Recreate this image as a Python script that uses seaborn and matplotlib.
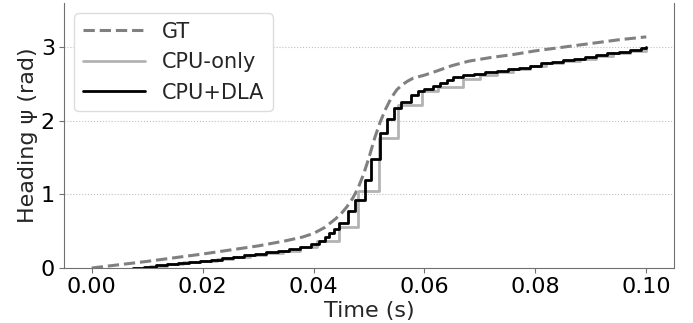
import matplotlib
matplotlib.use('Agg')
import matplotlib.pyplot as plt
import seaborn as sns

# Datos (tiempo en s, rumbo en rad)
gt_t = [0.000, 0.010, 0.020, 0.030, 0.035, 0.038, 0.040, 0.042, 0.044, 0.045,
        0.046, 0.047, 0.048, 0.049, 0.050, 0.051, 0.052, 0.053, 0.054, 0.055,
        0.056, 0.057, 0.058, 0.060, 0.062, 0.065, 0.068, 0.072, 0.076, 0.080,
        0.085, 0.090, 0.095, 0.100]
gt_v = [0.00, 0.09, 0.19, 0.30, 0.37, 0.42, 0.47, 0.55, 0.67, 0.74,
        0.83, 0.94, 1.08, 1.27, 1.50, 1.76, 1.98, 2.16, 2.31, 2.42,
        2.49, 2.54, 2.58, 2.62, 2.67, 2.75, 2.81, 2.86, 2.90, 2.95,
        3.00, 3.05, 3.10, 3.14]

cpu_t = [0.0075, 0.0105, 0.0135, 0.0165, 0.0195, 0.0225, 0.0255, 0.0285,
         0.0315, 0.0345, 0.0375, 0.0406, 0.0445, 0.0480, 0.0518, 0.0553,
         0.0595, 0.0625, 0.0669, 0.0700, 0.0730, 0.0760, 0.0790, 0.0820,
         0.0850, 0.0880, 0.0910, 0.0940, 0.0970, 0.1000]
cpu_v = [0.00, 0.03, 0.05, 0.075, 0.095, 0.12, 0.145, 0.17,
         0.20, 0.23, 0.28, 0.37, 0.56, 1.04, 1.77, 2.22,
         2.40, 2.46, 2.57, 2.62, 2.66, 2.70, 2.74, 2.78,
         2.81, 2.84, 2.88, 2.92, 2.95, 2.99]

dla_t = [0.0075, 0.0095, 0.0115, 0.0135, 0.0155, 0.0175, 0.0195, 0.0215,
         0.0235, 0.0255, 0.0275, 0.0295, 0.0315, 0.0335, 0.0355, 0.0375,
         0.0395, 0.0410, 0.0420, 0.0428, 0.0436, 0.0445, 0.0462, 0.0475,
         0.0492, 0.0503, 0.0519, 0.0533, 0.0545, 0.0558, 0.0576, 0.0588,
         0.0600, 0.0615, 0.0628, 0.0640, 0.0652, 0.0670, 0.0690, 0.0710,
         0.0730, 0.0750, 0.0770, 0.0790, 0.0810, 0.0830, 0.0850, 0.0870,
         0.0890, 0.0910, 0.0930, 0.0950, 0.0970, 0.0990, 0.1000]
dla_v = [0.00, 0.02, 0.04, 0.055, 0.07, 0.085, 0.10, 0.115,
         0.135, 0.155, 0.175, 0.195, 0.215, 0.235, 0.26, 0.29,
         0.33, 0.37, 0.42, 0.47, 0.53, 0.61, 0.77, 0.92,
         1.20, 1.48, 1.83, 2.03, 2.18, 2.26, 2.35, 2.40,
         2.43, 2.47, 2.51, 2.55, 2.59, 2.62, 2.64, 2.66,
         2.68, 2.70, 2.72, 2.75, 2.78, 2.80, 2.82, 2.84,
         2.86, 2.89, 2.92, 2.94, 2.96, 2.99, 3.00]

sns.set_style('ticks')
plt.rcParams['font.family'] = ['DejaVu Sans']

fig, ax = plt.subplots(figsize=(6.93, 3.23), dpi=100)
fig.subplots_adjust(left=64/693, right=674/693, bottom=1 - 268/323, top=1 - 3/323)

sns.lineplot(x=gt_t, y=gt_v, ax=ax, color='#808080', linestyle='--',
             linewidth=2.2, label='GT')
sns.lineplot(x=cpu_t, y=cpu_v, ax=ax, color='#b3b3b3', linewidth=2.0,
             drawstyle='steps-post', label='CPU-only')
sns.lineplot(x=dla_t, y=dla_v, ax=ax, color='black', linewidth=2.0,
             drawstyle='steps-post', label='CPU+DLA')

ax.set_xlim(-0.005, 0.105)
ax.set_ylim(0, 3.6)
ax.set_xticks([0.00, 0.02, 0.04, 0.06, 0.08, 0.10])
ax.set_yticks([0, 1, 2, 3])
ax.set_xlabel('Time (s)', fontsize=16, labelpad=3)
ax.set_ylabel('Heading ψ (rad)', fontsize=16, labelpad=2)
ax.tick_params(labelsize=16, colors='#707070', labelcolor='black', pad=3)

ax.yaxis.grid(True, linestyle=':', color='#c0c0c0', linewidth=0.8)
ax.spines['top'].set_visible(False)
for lado in ['left', 'bottom', 'right']:
    ax.spines[lado].set_color('#707070')

ax.legend(loc='upper left', fontsize=15, handlelength=3.0, framealpha=1,
          edgecolor='#dddddd')

plt.savefig('out.png', dpi=100)
